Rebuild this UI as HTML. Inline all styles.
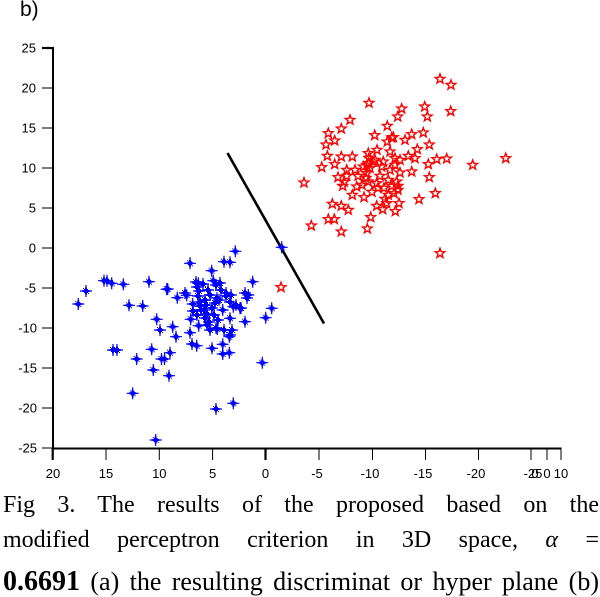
<!DOCTYPE html>
<html><head><meta charset="utf-8">
<style>
html,body{margin:0;padding:0;background:#fff;}
body{width:600px;height:590px;position:relative;overflow:hidden;}
svg{position:absolute;left:0;top:0;}
.cap{position:absolute;left:3px;width:596px;font-family:"Liberation Serif",serif;font-size:24px;line-height:24px;text-align:justify;text-align-last:justify;white-space:normal;color:#000;}
</style></head><body>
<svg width="600" height="590" viewBox="0 0 600 590" xmlns="http://www.w3.org/2000/svg">
<defs>
<g id="r"><polygon points="0,-5 1.23,-1.7 4.76,-1.55 2,0.65 2.94,4.05 0,2.1 -2.94,4.05 -2,0.65 -4.76,-1.55 -1.23,-1.7" fill="none" stroke="#ff0000" stroke-width="1.4"/></g>
<g id="b"><path d="M-6,0H6M0,-6V6" stroke="#0000ff" stroke-width="1.2"/><path d="M-3.5,0H3.5M0,-3.5V3.5" stroke="#0000ff" stroke-width="2"/><rect x="-2" y="-2" width="4" height="4" fill="#0000ff"/><rect x="-3" y="-3" width="1" height="1" fill="#0000ff"/><rect x="2" y="2" width="1" height="1" fill="#0000ff"/></g>
</defs>
<text x="20" y="16" font-family="Liberation Sans, sans-serif" font-size="21">b)</text>
<g font-family="Liberation Sans, sans-serif" font-size="13" fill="#000">
<line x1="53" y1="47" x2="53" y2="449" stroke="#000" stroke-width="2"/>
<line x1="42" y1="48" x2="54" y2="48" stroke="#000" stroke-width="2.2"/>
<g stroke="#000" stroke-width="1">
<line x1="42" y1="88" x2="53" y2="88"/><line x1="42" y1="128" x2="53" y2="128"/><line x1="42" y1="168" x2="53" y2="168"/><line x1="42" y1="208" x2="53" y2="208"/><line x1="42" y1="248" x2="53" y2="248"/><line x1="42" y1="288" x2="53" y2="288"/><line x1="42" y1="328" x2="53" y2="328"/><line x1="42" y1="368" x2="53" y2="368"/><line x1="42" y1="408" x2="53" y2="408"/><line x1="42" y1="448" x2="53" y2="448"/>
</g>
<g text-anchor="end">
<text x="36" y="52.5">25</text><text x="36" y="92.5">20</text><text x="36" y="132.5">15</text><text x="36" y="172.5">10</text><text x="36" y="212.5">5</text><text x="36" y="252.5">0</text><text x="36" y="292.5">-5</text><text x="37" y="332.5">-10</text><text x="37" y="372.5">-15</text><text x="37" y="412.5">-20</text><text x="37" y="452.5">-25</text>
</g>
<line x1="52" y1="448.5" x2="561.5" y2="448.5" stroke="#000" stroke-width="2"/>
<g stroke="#000" stroke-width="1">
<line x1="52.7" y1="448" x2="52.7" y2="460" stroke-width="2.2"/>
<line x1="106" y1="448" x2="106" y2="460"/><line x1="159.3" y1="448" x2="159.3" y2="460"/><line x1="212.6" y1="448" x2="212.6" y2="460"/>
<line x1="265.5" y1="448" x2="265.5" y2="460" stroke-width="2.2"/>
<line x1="319" y1="448" x2="319" y2="460"/><line x1="372.5" y1="448" x2="372.5" y2="460"/><line x1="425.5" y1="448" x2="425.5" y2="460"/><line x1="478.5" y1="448" x2="478.5" y2="460"/><line x1="531" y1="448" x2="531" y2="460"/><line x1="547" y1="448" x2="547" y2="460"/><line x1="561" y1="448" x2="561" y2="460"/>
</g>
<g text-anchor="middle">
<text x="53" y="478">20</text><text x="106" y="478">15</text><text x="159.3" y="478">10</text><text x="212.6" y="478">5</text><text x="265.5" y="478">0</text><text x="317" y="478">-5</text><text x="370" y="478">-10</text><text x="423" y="478">-15</text><text x="476" y="478">-20</text><text x="533" y="478">-25</text><text x="535" y="478">0</text><text x="547" y="478">0</text><text x="561" y="478">10</text>
</g>
</g>
<line x1="227.5" y1="153" x2="324" y2="323.5" stroke="#000" stroke-width="2.6"/>
<g>
<use href="#r" x="440" y="79"/><use href="#r" x="451" y="85"/><use href="#r" x="369" y="103"/><use href="#r" x="401.7" y="108.7"/><use href="#r" x="424.7" y="106.7"/><use href="#r" x="450.7" y="111.3"/><use href="#r" x="397.7" y="116.7"/><use href="#r" x="427.3" y="116.7"/><use href="#r" x="350" y="120"/><use href="#r" x="341.3" y="128.7"/><use href="#r" x="328.3" y="133.3"/><use href="#r" x="387.3" y="126"/><use href="#r" x="374.7" y="135.3"/><use href="#r" x="411.7" y="134.3"/><use href="#r" x="423.3" y="132.7"/><use href="#r" x="334.7" y="140.7"/><use href="#r" x="326" y="144.7"/><use href="#r" x="387.3" y="141.7"/><use href="#r" x="393.3" y="137.3"/><use href="#r" x="405" y="140"/><use href="#r" x="429.3" y="144.7"/><use href="#r" x="417.3" y="149.3"/><use href="#r" x="327.3" y="156"/><use href="#r" x="341.3" y="156.7"/><use href="#r" x="352.3" y="156.7"/><use href="#r" x="368.3" y="153.3"/><use href="#r" x="390" y="151.7"/><use href="#r" x="395" y="158.3"/><use href="#r" x="408.3" y="156"/><use href="#r" x="415" y="158.3"/><use href="#r" x="436.7" y="159.3"/><use href="#r" x="446.7" y="158.7"/><use href="#r" x="428.3" y="164.3"/><use href="#r" x="472.7" y="165"/><use href="#r" x="505.7" y="158.3"/><use href="#r" x="321.7" y="167.3"/><use href="#r" x="334.7" y="164.3"/><use href="#r" x="346.7" y="170"/><use href="#r" x="363.3" y="166.7"/><use href="#r" x="368.3" y="163.3"/><use href="#r" x="381.7" y="166.7"/><use href="#r" x="304" y="182.7"/><use href="#r" x="338" y="177.3"/><use href="#r" x="346.7" y="176"/><use href="#r" x="342.7" y="186"/><use href="#r" x="356.7" y="186.7"/><use href="#r" x="366.7" y="173.3"/><use href="#r" x="368.3" y="181.7"/><use href="#r" x="376.7" y="183.3"/><use href="#r" x="380" y="176"/><use href="#r" x="388.3" y="180"/><use href="#r" x="396.7" y="181.7"/><use href="#r" x="400" y="172.7"/><use href="#r" x="411.7" y="171.7"/><use href="#r" x="429.3" y="177.3"/><use href="#r" x="352.3" y="195"/><use href="#r" x="364" y="197.3"/><use href="#r" x="388.3" y="195"/><use href="#r" x="394" y="193.3"/><use href="#r" x="419" y="199.3"/><use href="#r" x="435.3" y="193.3"/><use href="#r" x="332.3" y="204"/><use href="#r" x="341.3" y="206"/><use href="#r" x="348.3" y="210"/><use href="#r" x="376.7" y="206"/><use href="#r" x="382.7" y="209.3"/><use href="#r" x="386.7" y="203.3"/><use href="#r" x="399" y="203.3"/><use href="#r" x="395.3" y="211.3"/><use href="#r" x="370.7" y="217.3"/><use href="#r" x="328.3" y="219.3"/><use href="#r" x="334.3" y="219.3"/><use href="#r" x="311.3" y="225.7"/><use href="#r" x="341.3" y="231.7"/><use href="#r" x="367.3" y="228.7"/><use href="#r" x="440" y="253.3"/><use href="#r" x="281" y="287.3"/>
<use href="#r" x="369" y="158"/><use href="#r" x="370" y="168"/><use href="#r" x="366" y="178"/><use href="#r" x="378" y="188"/><use href="#r" x="384" y="188"/><use href="#r" x="392" y="186"/><use href="#r" x="398" y="186"/><use href="#r" x="390" y="170"/><use href="#r" x="395" y="165"/><use href="#r" x="400" y="160"/><use href="#r" x="375" y="160"/><use href="#r" x="377" y="150"/><use href="#r" x="358" y="176"/><use href="#r" x="362" y="185"/><use href="#r" x="372" y="192"/><use href="#r" x="385" y="199"/><use href="#r" x="398" y="190"/><use href="#r" x="373.3" y="161.7"/><use href="#r" x="383.3" y="161.7"/><use href="#r" x="366.7" y="165"/><use href="#r" x="344" y="182"/><use href="#r" x="355" y="170"/><use href="#r" x="391.7" y="137.7"/>
</g>
<g>
<use href="#b" x="78.3" y="304"/><use href="#b" x="86" y="291"/><use href="#b" x="104" y="280.7"/><use href="#b" x="107" y="280.7"/><use href="#b" x="111.7" y="283.3"/><use href="#b" x="123.3" y="284.3"/><use href="#b" x="129" y="305.3"/><use href="#b" x="142.7" y="306"/><use href="#b" x="149" y="281.7"/><use href="#b" x="167.7" y="289"/><use href="#b" x="156.7" y="319.3"/><use href="#b" x="160" y="330"/><use href="#b" x="172.7" y="326.7"/><use href="#b" x="176" y="336.7"/><use href="#b" x="177.3" y="297.7"/><use href="#b" x="113" y="350"/><use href="#b" x="117" y="350"/><use href="#b" x="136.7" y="359"/><use href="#b" x="151.7" y="349.3"/><use href="#b" x="161.5" y="359"/><use href="#b" x="164.5" y="359"/><use href="#b" x="170" y="352.7"/><use href="#b" x="153.3" y="370"/><use href="#b" x="169" y="375.7"/><use href="#b" x="132.7" y="393.3"/><use href="#b" x="155.7" y="440"/><use href="#b" x="190" y="263.3"/><use href="#b" x="186.7" y="295.3"/><use href="#b" x="192.7" y="304"/><use href="#b" x="190.7" y="319.3"/><use href="#b" x="190" y="332.7"/><use href="#b" x="192" y="344"/><use href="#b" x="196.7" y="345.7"/><use href="#b" x="198.7" y="325.7"/><use href="#b" x="198.3" y="283.3"/><use href="#b" x="211.7" y="270.7"/><use href="#b" x="213.3" y="280.7"/><use href="#b" x="212" y="348.3"/><use href="#b" x="216" y="409"/><use href="#b" x="224" y="261.7"/><use href="#b" x="230" y="262.3"/><use href="#b" x="235.3" y="251.3"/><use href="#b" x="222.7" y="310"/><use href="#b" x="217.3" y="329"/><use href="#b" x="224" y="330"/><use href="#b" x="229.3" y="336.7"/><use href="#b" x="222.7" y="344.3"/><use href="#b" x="222.7" y="354"/><use href="#b" x="229.3" y="352.7"/><use href="#b" x="230" y="318.3"/><use href="#b" x="233.3" y="403.3"/><use href="#b" x="245" y="321.7"/><use href="#b" x="252.7" y="281.7"/><use href="#b" x="248.3" y="295"/><use href="#b" x="271.7" y="308.3"/><use href="#b" x="265.7" y="317.7"/><use href="#b" x="262.3" y="362.7"/><use href="#b" x="281.7" y="247.3"/><use href="#b" x="240" y="308.3"/><use href="#b" x="233.3" y="306.7"/>
<use href="#b" x="196" y="282"/><use href="#b" x="197" y="287"/><use href="#b" x="199" y="291"/><use href="#b" x="203" y="284"/><use href="#b" x="208" y="290"/><use href="#b" x="216" y="285"/><use href="#b" x="220" y="283"/><use href="#b" x="221" y="290"/><use href="#b" x="226" y="293"/><use href="#b" x="231" y="295"/><use href="#b" x="245" y="293"/><use href="#b" x="247" y="298"/><use href="#b" x="205" y="300"/><use href="#b" x="206" y="305"/><use href="#b" x="204" y="310"/><use href="#b" x="207" y="314"/><use href="#b" x="205" y="318"/><use href="#b" x="209" y="322"/><use href="#b" x="212" y="308"/><use href="#b" x="215" y="303"/><use href="#b" x="217" y="298"/><use href="#b" x="210" y="295"/><use href="#b" x="200" y="302"/><use href="#b" x="201" y="310"/><use href="#b" x="197" y="315"/><use href="#b" x="214" y="315"/><use href="#b" x="218" y="320"/><use href="#b" x="216" y="328"/><use href="#b" x="230" y="335"/><use href="#b" x="232" y="330"/><use href="#b" x="241" y="308"/><use href="#b" x="230" y="302"/><use href="#b" x="200" y="306"/><use href="#b" x="207" y="325"/><use href="#b" x="210" y="330"/><use href="#b" x="198" y="296"/><use href="#b" x="193" y="311"/><use href="#b" x="166.7" y="289.3"/><use href="#b" x="185" y="293"/><use href="#b" x="219" y="300"/><use href="#b" x="226" y="296"/><use href="#b" x="236" y="305"/>
</g>
</svg>
<div class="cap" style="top:493px;">Fig 3. The results of the proposed based on the</div>
<div class="cap" style="top:528px;">modified perceptron criterion in 3D space, <i>α</i> =</div>
<div class="cap" style="top:569px;font-size:26px;line-height:26px;"><b style="font-size:28px;">0.6691</b> (a) the resulting discriminat or hyper plane (b)</div>
</body></html>
